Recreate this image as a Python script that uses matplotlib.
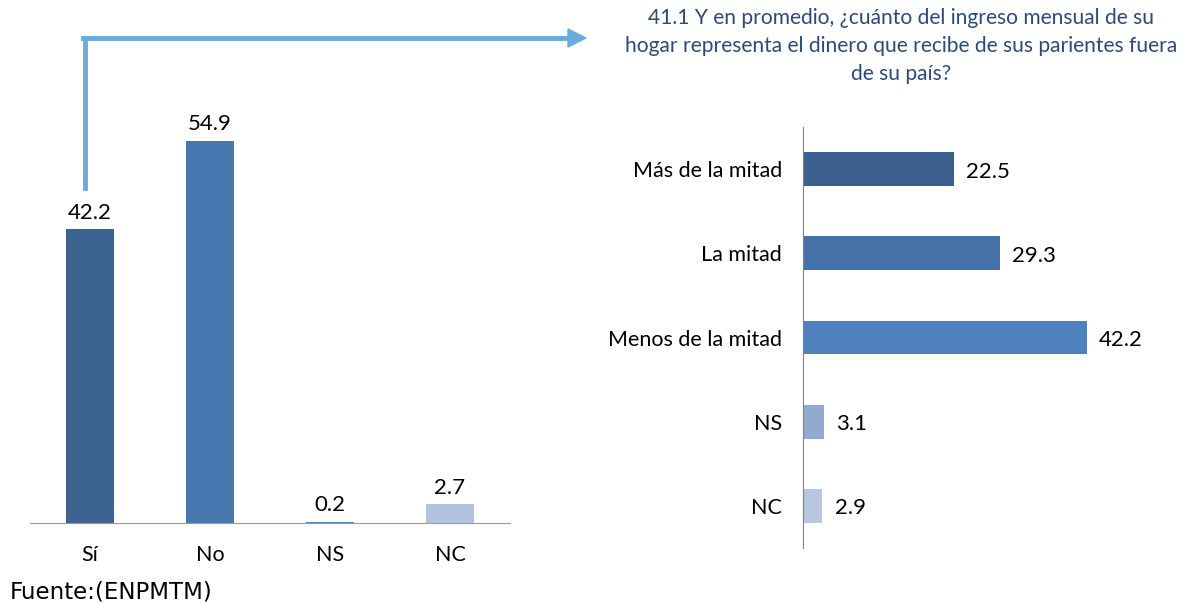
import matplotlib
matplotlib.use('Agg')
import matplotlib.pyplot as plt
from matplotlib.lines import Line2D
from matplotlib.patches import FancyArrow

plt.rcParams['font.family'] = ['Lato', 'DejaVu Sans']

# pregunta 41: recibe dinero de parientes
cats_left = ['Sí', 'No', 'NS', 'NC']
vals_left = [42.2, 54.9, 0.2, 2.7]
colors_left = ['#3C6392', '#4878B0', '#4A7EBB', '#B3C3DD']

# pregunta 41.1
cats_right = ['Más de la mitad', 'La mitad', 'Menos de la mitad', 'NS', 'NC']
vals_right = [22.5, 29.3, 42.2, 3.1, 2.9]
colors_right = ['#3B5F8E', '#4472A6', '#4E81BD', '#94A9CF', '#B9C6E0']

title_right = ('41.1 Y en promedio, ¿cuánto del ingreso mensual de su\n'
               'hogar representa el dinero que recibe de sus parientes fuera\n'
               'de su país?')

W, H = 1181, 603
fig = plt.figure(figsize=(W / 100, H / 100), dpi=100)

# ---- barras verticales ----
ax1 = fig.add_axes([30 / W, (H - 523) / H, 480 / W, 418 / H])
x = range(len(cats_left))
ax1.bar(x, vals_left, width=0.4, color=colors_left)
ax1.set_xlim(-0.5, 3.5)
ax1.set_ylim(0, 60)
for i, v in enumerate(vals_left):
    ax1.text(i, v + 0.9, f'{v:.1f}', ha='center', va='bottom', fontsize=16)
ax1.set_xticks(list(x))
ax1.set_xticklabels(cats_left, fontsize=15.5)
ax1.tick_params(axis='x', length=0, pad=16)
ax1.set_yticks([])
for s in ['top', 'right', 'left']:
    ax1.spines[s].set_visible(False)
ax1.spines['bottom'].set_color('#9A9A9A')

# ---- barras horizontales ----
ax2 = fig.add_axes([803 / W, (H - 548) / H, 336 / W, 421 / H])
y = range(len(cats_right))
ax2.barh(y, vals_right, height=0.4, color=colors_right)
ax2.set_ylim(4.5, -0.5)
ax2.set_xlim(0, 50)
for i, v in enumerate(vals_right):
    ax2.text(v + 1.8, i + 0.03, f'{v:.1f}', ha='left', va='center', fontsize=16)
ax2.set_yticks(list(y))
ax2.set_yticklabels(cats_right, fontsize=15.5)
ax2.tick_params(axis='y', length=0, pad=15)
ax2.set_xticks([])
for s in ['top', 'right', 'bottom']:
    ax2.spines[s].set_visible(False)
ax2.spines['left'].set_color('#808080')

fig.text(901 / W, 1 - 8 / H, title_right, ha='center', va='top',
         fontsize=15.1, color='#2C4A78', linespacing=1.5)

# flecha que conecta "Sí" con la pregunta 41.1
arrow_col = '#6AABDD'
fig.add_artist(Line2D([85 / W, 85 / W], [1 - 188 / H, 1 - 38 / H],
                      color=arrow_col, lw=3.5, transform=fig.transFigure))
fig.add_artist(Line2D([83.3 / W, 570 / W], [1 - 38 / H, 1 - 38 / H],
                      color=arrow_col, lw=3.5, transform=fig.transFigure))
fig.add_artist(FancyArrow(568 / W, 1 - 38 / H, 18 / W, 0, width=0,
                          head_width=18 / H, head_length=18 / W,
                          length_includes_head=True, color=arrow_col,
                          transform=fig.transFigure))

fig.text(10 / W, 11 / H, 'Fuente:(ENPMTM)', ha='left', va='center',
         fontsize=16.5, family=['DejaVu Sans'])

fig.savefig('out.png', dpi=100, facecolor='white')
